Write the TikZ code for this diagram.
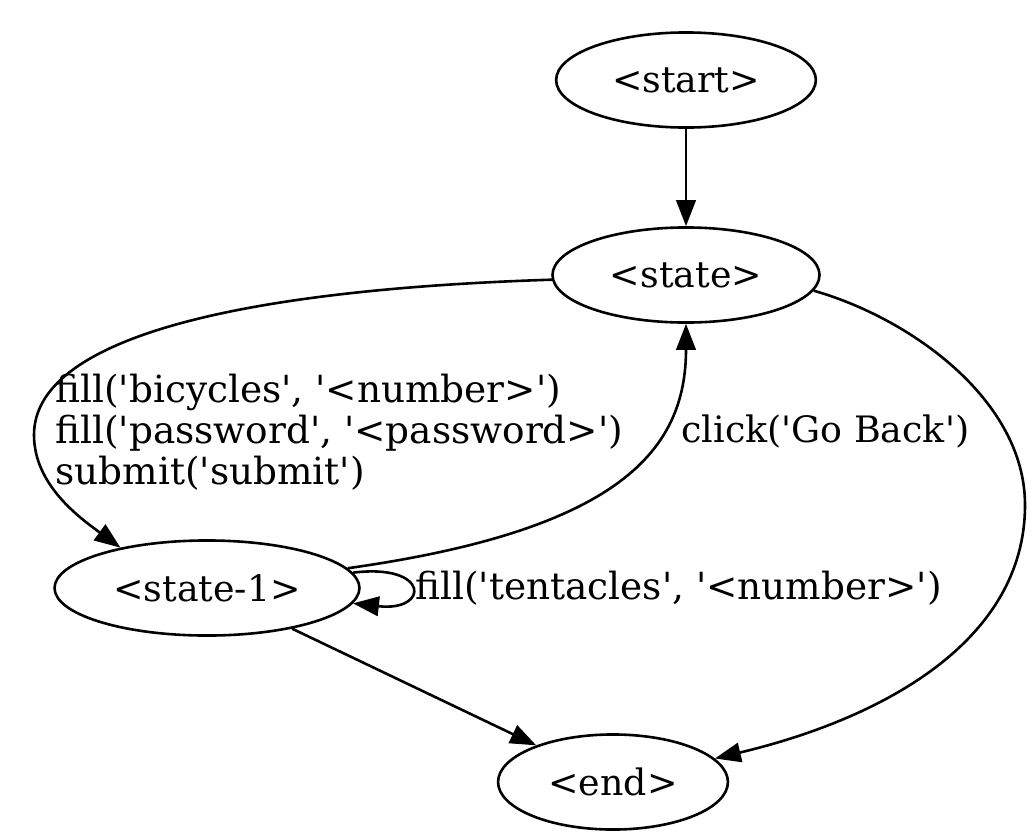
\documentclass[tikz,border=0pt]{standalone}
\usepackage{fontspec}
\newfontfamily\gvfont{DejaVu Serif}
\usetikzlibrary{shapes.geometric,arrows.meta}

\begin{document}
\begin{tikzpicture}[x=0.385pt,y=-0.385pt]
        \tikzstyle{stnode}=[ellipse,draw=black,line width=1pt,inner sep=0pt,minimum height=36.6pt,font=\gvfont\fontsize{14}{15.8}\selectfont]
        \tikzstyle{trans}=[draw,line width=1pt,-{Triangle[length=10pt,width=7.5pt]}]
        \tikzstyle{lbl}=[inner sep=0pt,align=left,anchor=west,font=\gvfont\fontsize{14.4}{15.8}\selectfont]
        \useasboundingbox (0,0) rectangle (1035,832);
        \begin{scope}
            \node [stnode,minimum width=100pt] (st) at (686,80) {<start>};
            \node [stnode,minimum width=102.8pt] (s0) at (686,275) {<state>};
            \node [stnode,minimum width=117.4pt] (s1) at (207,588) {<state-1>};
            \node [stnode,minimum width=88.5pt] (en) at (613,782) {<end>};
            \path[trans] (st) -- (s0);
            \path[trans] (s0.182) .. controls (230,290) and (34,340) .. (34,435)
                .. controls (34,485) and (80,518) .. (s1.155);
            \path[trans] (s1.8) .. controls (620,530) and (686,450) .. (s0.south);
            \path[trans] (s1.6) .. controls (430,563) and (430,612) .. (s1.-6);
            \path[trans] (s1) -- (en);
            \path[trans] (s0.-7) .. controls (910,318) and (1025,400) .. (1025,505)
                .. controls (1025,640) and (885,718) .. (en.13);
            \node [lbl] (l1) at (55,432) {fill('bicycles', '<number>')\\fill('password', '<password>')\\submit('submit')};
            \node [lbl] (l2) at (681,432) {\fontsize{14}{15.8}\selectfont click('Go Back')};
            \node [lbl] (l3) at (415,588) {fill('tentacles', '<number>')};
        \end{scope}
\end{tikzpicture}
\end{document}
